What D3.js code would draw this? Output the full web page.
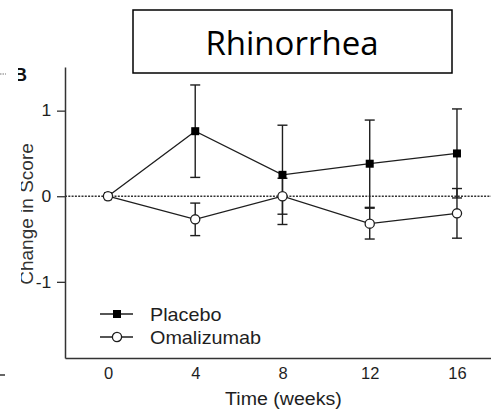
<!DOCTYPE html>
<html><head><meta charset="utf-8">
<script src="https://cdn.jsdelivr.net/npm/d3@7"></script>
<style>body{margin:0;background:#fff}svg{display:block}</style>
</head><body>
<script>
const weeks = [0, 4, 8, 12, 16];
const placebo = [0, 0.76, 0.25, 0.38, 0.50];
const placeboErr = [0, 0.54, 0.58, 0.51, 0.52];
const omalizumab = [0, -0.27, 0.00, -0.32, -0.20];
const omalizumabErr = [0, 0.19, 0.21, 0.18, 0.29];
const yTicks = [-1, 0, 1];
const seriesNames = ["Placebo", "Omalizumab"];
const title = "Rhinorrhea";
const xTitle = "Time (weeks)";
const yTitle = "Change in Score";

const W = 491, H = 414;
const FONT = "'Liberation Sans', Arial, Helvetica, sans-serif";
const INK = "#1e1e1e";
const svg = d3.select("body").append("svg").attr("width", W).attr("height", H);
svg.append("rect").attr("width", W).attr("height", H).attr("fill", "#fff");

const x = d3.scaleLinear().domain([-1.97, 17.56]).range([65, 491]);
const y = d3.scaleLinear().domain([-1.89, 1.51]).range([358, 67]);

svg.append("clipPath").attr("id", "cl").append("rect").attr("x", 21).attr("y", 0).attr("width", W).attr("height", H);
svg.append("clipPath").attr("id", "cb").append("rect").attr("x", 18).attr("y", 0).attr("width", W).attr("height", H);

// zero reference line
svg.append("line").attr("x1", x.range()[0]).attr("x2", x.range()[1])
  .attr("y1", y(0)).attr("y2", y(0))
  .attr("stroke", "#333").attr("stroke-width", 1.5).attr("stroke-dasharray", "2,1.3");

// Y axis
const ya = svg.append("g").attr("transform", `translate(${x.range()[0]},0)`)
  .call(d3.axisLeft(y).tickValues(yTicks).tickSize(8).tickSizeOuter(0).tickPadding(5).tickFormat(d => String(d)));
ya.select(".domain").attr("stroke", "#333").attr("stroke-width", 1.5);
ya.selectAll(".tick line").attr("stroke", "#333").attr("stroke-width", 1.3);
ya.selectAll(".tick text").attr("font-family", FONT).attr("font-size", 16.5).attr("fill", INK)
  .attr("transform", "scale(1.06,1)");

// X axis
const xa = svg.append("g").attr("transform", `translate(0,${y.range()[0]})`)
  .call(d3.axisBottom(x).tickValues(weeks).tickSize(0).tickSizeOuter(0).tickPadding(9).tickFormat(d => String(d)));
xa.select(".domain").attr("stroke", "#333").attr("stroke-width", 1.5);
xa.selectAll(".tick text").attr("font-family", FONT).attr("font-size", 16.5).attr("fill", INK);

// axis titles
svg.append("text").attr("transform", `translate(${(x(0) + x(16)) / 2 + 1},405) scale(1.12,1)`)
  .attr("text-anchor", "middle").attr("font-family", FONT).attr("font-size", 17.5).attr("fill", INK).text(xTitle);

svg.append("g").attr("clip-path", "url(#cl)").append("text").attr("transform", "translate(33,214) rotate(-90)")
  .attr("text-anchor", "middle").attr("font-family", FONT).attr("font-size", 19).attr("fill", "#333").text(yTitle);
svg.append("g").attr("clip-path", "url(#cb)").append("text").attr("x", 14).attr("y", 81).attr("font-family", FONT).attr("font-weight", "bold")
  .attr("font-size", 18).attr("fill", "#111").text("B");

// neighbouring-panel fragments at the far left
svg.append("line").attr("x1", 0).attr("x2", 6).attr("y1", 74).attr("y2", 74).attr("stroke", "#777").attr("stroke-width", 1.2).attr("stroke-dasharray", "1.5,1");
svg.append("line").attr("x1", 0).attr("x2", 5).attr("y1", 375).attr("y2", 375).attr("stroke", "#333").attr("stroke-width", 1.5);

// error bars
function errBars(vals, errs) {
  const g = svg.append("g").attr("stroke", INK).attr("stroke-width", 1.4);
  weeks.forEach((w, i) => {
    if (!errs[i]) return;
    const cx = x(w), y1 = y(vals[i] - errs[i]), y2 = y(vals[i] + errs[i]);
    g.append("line").attr("x1", cx).attr("x2", cx).attr("y1", y1).attr("y2", y2);
    g.append("line").attr("x1", cx - 5).attr("x2", cx + 5).attr("y1", y1).attr("y2", y1);
    g.append("line").attr("x1", cx - 5).attr("x2", cx + 5).attr("y1", y2).attr("y2", y2);
  });
}
errBars(placebo, placeboErr);
errBars(omalizumab, omalizumabErr);

const line = d3.line().x(d => x(d[0])).y(d => y(d[1]));
[placebo, omalizumab].forEach(vals => {
  svg.append("path").datum(weeks.map((w, i) => [w, vals[i]])).attr("d", line)
    .attr("fill", "none").attr("stroke", INK).attr("stroke-width", 1.3);
});

// markers
svg.append("g").selectAll("rect").data(weeks.map((w, i) => [w, placebo[i]])).join("rect")
  .attr("x", d => x(d[0]) - 4).attr("y", d => y(d[1]) - 4).attr("width", 8).attr("height", 8).attr("fill", "#000");
svg.append("g").selectAll("circle").data(weeks.map((w, i) => [w, omalizumab[i]])).join("circle")
  .attr("cx", d => x(d[0])).attr("cy", d => y(d[1])).attr("r", 4.6)
  .attr("fill", "#fff").attr("stroke", INK).attr("stroke-width", 1.3);

// legend
const legY = [314, 337];
seriesNames.forEach((name, i) => {
  const g = svg.append("g").attr("transform", `translate(100,${legY[i]})`);
  g.append("line").attr("x1", 0).attr("x2", 33).attr("stroke", INK).attr("stroke-width", 1.3);
  if (i === 0) g.append("rect").attr("x", 13).attr("y", -4).attr("width", 8).attr("height", 8).attr("fill", "#000");
  else g.append("circle").attr("cx", 17).attr("r", 4.6).attr("fill", "#fff").attr("stroke", INK).attr("stroke-width", 1.3);
  g.append("text").attr("transform", "translate(50,6.5) scale(1.1,1)").attr("font-family", FONT)
    .attr("font-size", 18).attr("fill", INK).text(name);
});

// title box
svg.append("rect").attr("x", 133).attr("y", 10).attr("width", 319).attr("height", 63)
  .attr("fill", "#fff").attr("stroke", "#000").attr("stroke-width", 1.5);
svg.append("text").attr("x", 292).attr("y", 55).attr("text-anchor", "middle")
  .attr("font-family", "'Open Sans', Carlito, Calibri, sans-serif").attr("font-size", 33).attr("fill", "#000").text(title);
</script>
</body></html>
